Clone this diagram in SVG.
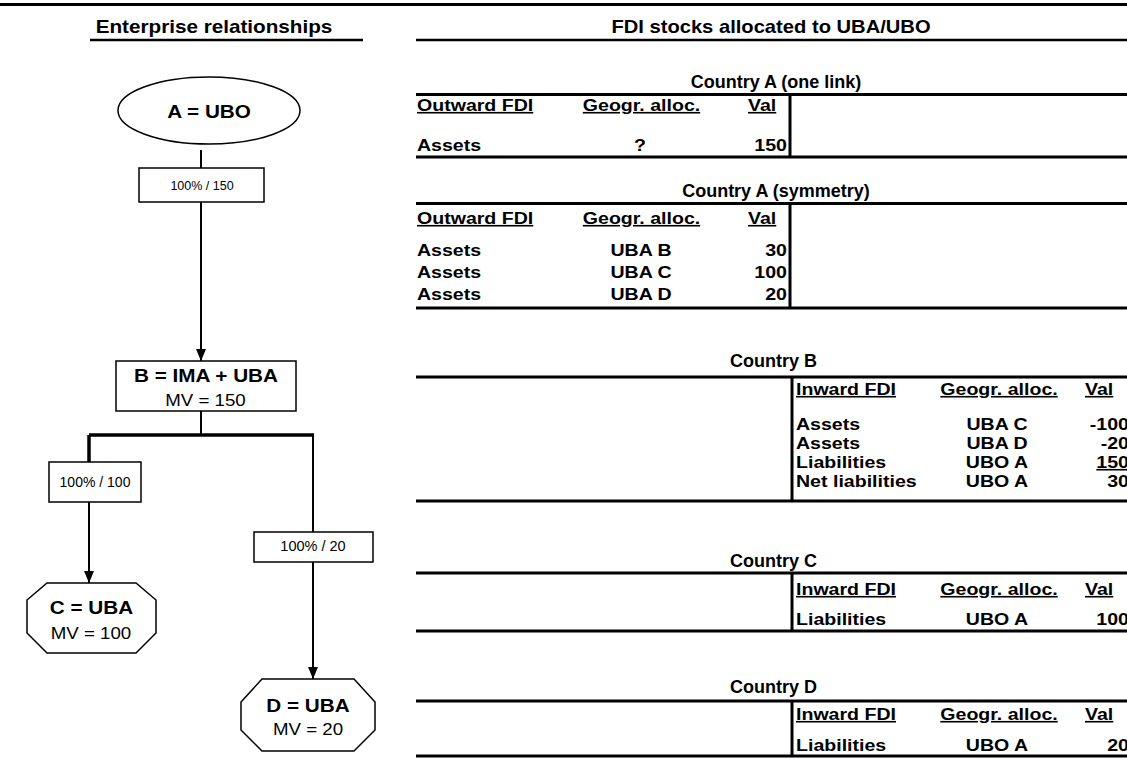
<svg xmlns="http://www.w3.org/2000/svg" width="1127" height="778" viewBox="0 0 1127 778">
<defs>
<style>
text{font-family:"Liberation Sans",Arial,sans-serif;fill:#000}
.b{font-weight:bold}
.h{font-size:18px;font-weight:bold}
.c{font-size:16.3px;font-weight:bold}
.u{text-decoration:underline}
.lbl{font-size:18px;font-weight:bold}
.mv{font-size:17px}
.pct{font-weight:normal}
.rule{stroke:#000;stroke-width:3;fill:none}
.ul{stroke:#000;stroke-width:2.5;fill:none}
.shape{fill:#fff;stroke:#000;stroke-width:1.5}
.con{stroke:#000;stroke-width:2;fill:none}
.thick{stroke:#000;stroke-width:3.5;fill:none}
</style>
<marker id="arr" viewBox="0 0 12 10" refX="12" refY="5" markerWidth="12" markerHeight="10" markerUnits="userSpaceOnUse" orient="auto">
<path d="M0,0 L12,5 L0,10 z" fill="#000"/>
</marker>
</defs>
<rect width="1127" height="778" fill="#fff"/>
<line class="rule" x1="0" y1="4.5" x2="1127" y2="4.5"/>

<g id="headers">
<text class="h" text-anchor="middle" transform="translate(214 33) scale(1.15 1)">Enterprise relationships</text>
<line class="ul" x1="90" y1="40" x2="363" y2="40"/>
<text class="h" text-anchor="middle" transform="translate(771 33) scale(1.12 1)">FDI stocks allocated to UBA/UBO</text>
<line class="ul" x1="416" y1="40" x2="1127" y2="40"/>
</g>

<g id="connectors">
<line class="con" x1="201" y1="150" x2="201" y2="168"/>
<line class="con" x1="201" y1="202" x2="201" y2="361" marker-end="url(#arr)"/>
<line class="con" x1="201" y1="411" x2="201" y2="435"/>
<line class="thick" x1="89" y1="435" x2="314" y2="435"/>
<line class="thick" x1="89" y1="435" x2="89" y2="462"/>
<line class="con" x1="89" y1="502" x2="89" y2="583" marker-end="url(#arr)"/>
<line class="con" x1="313" y1="435" x2="313" y2="532"/>
<line class="con" x1="313" y1="562" x2="313" y2="679" marker-end="url(#arr)"/>
</g>

<g id="nodeA">
<ellipse class="shape" cx="209" cy="110.5" rx="91" ry="33.5"/>
<text class="lbl" text-anchor="middle" transform="translate(209 118) scale(1.15 1)">A = UBO</text>
</g>
<g id="edgeAB">
<rect class="shape" x="139" y="168" width="125" height="34"/>
<text class="pct" font-size="12.5" text-anchor="middle" x="202" y="189.5">100% / 150</text>
</g>
<g id="nodeB">
<rect class="shape" x="116" y="361" width="180" height="50"/>
<text class="lbl" text-anchor="middle" transform="translate(206 382) scale(1.15 1)">B = IMA + UBA</text>
<text class="mv" text-anchor="middle" transform="translate(205.5 406) scale(1.1 1)">MV = 150</text>
</g>
<g id="edgeBC">
<rect class="shape" x="49" y="462" width="92" height="40"/>
<text class="pct" font-size="14" text-anchor="middle" x="95" y="486.5">100% / 100</text>
</g>
<g id="edgeBD">
<rect class="shape" x="254" y="532" width="119" height="30"/>
<text class="pct" font-size="14.5" text-anchor="middle" x="313" y="550.5">100% / 20</text>
</g>
<g id="nodeC">
<polygon class="shape" points="47,583 136,583 156,600 156,633 136,653 47,653 27,633 27,600"/>
<text class="lbl" text-anchor="middle" transform="translate(91.5 614) scale(1.15 1)">C = UBA</text>
<text class="mv" text-anchor="middle" transform="translate(91 639) scale(1.1 1)">MV = 100</text>
</g>
<g id="nodeD">
<polygon class="shape" points="262,679 354,679 375,702 375,730 354,751 262,751 241,730 241,702"/>
<text class="lbl" text-anchor="middle" transform="translate(308 712) scale(1.15 1)">D = UBA</text>
<text class="mv" text-anchor="middle" transform="translate(308 735) scale(1.1 1)">MV = 20</text>
</g>

<g id="tableA1">
<text class="h" text-anchor="middle" x="776" y="88">Country A (one link)</text>
<line class="rule" x1="416" y1="94.5" x2="1127" y2="94.5"/>
<line class="rule" x1="790" y1="94.5" x2="790" y2="157"/>
<line class="rule" x1="416" y1="157" x2="1127" y2="157"/>
<text class="c u" transform="translate(417 111) scale(1.2 1)">Outward FDI</text>
<text class="c u" text-anchor="middle" transform="translate(641.5 111) scale(1.2 1)">Geogr. alloc.</text>
<text class="c u" transform="translate(748 111) scale(1.2 1)">Val</text>
<text class="c" transform="translate(417 151) scale(1.2 1)">Assets</text>
<text class="c" text-anchor="middle" transform="translate(640 151) scale(1.2 1)">?</text>
<text class="c" text-anchor="end" transform="translate(787 151) scale(1.2 1)">150</text>
</g>

<g id="tableA2">
<text class="h" text-anchor="middle" x="776" y="197">Country A (symmetry)</text>
<line class="rule" x1="416" y1="203.5" x2="1127" y2="203.5"/>
<line class="rule" x1="790" y1="203.5" x2="790" y2="308"/>
<line class="rule" x1="416" y1="308" x2="1127" y2="308"/>
<text class="c u" transform="translate(417 224) scale(1.2 1)">Outward FDI</text>
<text class="c u" text-anchor="middle" transform="translate(641.5 224) scale(1.2 1)">Geogr. alloc.</text>
<text class="c u" transform="translate(748 224) scale(1.2 1)">Val</text>
<text class="c" transform="translate(417 256) scale(1.2 1)">Assets</text>
<text class="c" transform="translate(417 278) scale(1.2 1)">Assets</text>
<text class="c" transform="translate(417 300) scale(1.2 1)">Assets</text>
<text class="c" text-anchor="middle" transform="translate(641 256) scale(1.2 1)">UBA B</text>
<text class="c" text-anchor="middle" transform="translate(641 278) scale(1.2 1)">UBA C</text>
<text class="c" text-anchor="middle" transform="translate(641 300) scale(1.2 1)">UBA D</text>
<text class="c" text-anchor="end" transform="translate(787 256) scale(1.2 1)">30</text>
<text class="c" text-anchor="end" transform="translate(787 278) scale(1.2 1)">100</text>
<text class="c" text-anchor="end" transform="translate(787 300) scale(1.2 1)">20</text>
</g>

<g id="tableB">
<text class="h" x="730" y="367">Country B</text>
<line class="rule" x1="416" y1="377" x2="1127" y2="377"/>
<line class="rule" x1="792" y1="377" x2="792" y2="501"/>
<line class="rule" x1="416" y1="501" x2="1127" y2="501"/>
<text class="c u" transform="translate(796 395) scale(1.2 1)">Inward FDI</text>
<text class="c u" text-anchor="middle" transform="translate(999 395) scale(1.2 1)">Geogr. alloc.</text>
<text class="c u" transform="translate(1085 395) scale(1.2 1)">Val</text>
<text class="c" transform="translate(796 430) scale(1.2 1)">Assets</text>
<text class="c" transform="translate(796 449) scale(1.2 1)">Assets</text>
<text class="c" transform="translate(796 468) scale(1.2 1)">Liabilities</text>
<text class="c" transform="translate(796 487) scale(1.2 1)">Net liabilities</text>
<text class="c" text-anchor="middle" transform="translate(997 430) scale(1.2 1)">UBA C</text>
<text class="c" text-anchor="middle" transform="translate(997 449) scale(1.2 1)">UBA D</text>
<text class="c" text-anchor="middle" transform="translate(997 468) scale(1.2 1)">UBO A</text>
<text class="c" text-anchor="middle" transform="translate(997 487) scale(1.2 1)">UBO A</text>
<text class="c" text-anchor="end" transform="translate(1129 430) scale(1.2 1)">-100</text>
<text class="c" text-anchor="end" transform="translate(1129 449) scale(1.2 1)">-20</text>
<text class="c u" text-anchor="end" transform="translate(1129 468) scale(1.2 1)">150</text>
<text class="c" text-anchor="end" transform="translate(1129 487) scale(1.2 1)">30</text>
</g>

<g id="tableC">
<text class="h" x="730" y="567">Country C</text>
<line class="rule" x1="416" y1="573" x2="1127" y2="573"/>
<line class="rule" x1="792" y1="573" x2="792" y2="631"/>
<line class="rule" x1="416" y1="631" x2="1127" y2="631"/>
<text class="c u" transform="translate(796 595) scale(1.2 1)">Inward FDI</text>
<text class="c u" text-anchor="middle" transform="translate(999 595) scale(1.2 1)">Geogr. alloc.</text>
<text class="c u" transform="translate(1085 595) scale(1.2 1)">Val</text>
<text class="c" transform="translate(796 625) scale(1.2 1)">Liabilities</text>
<text class="c" text-anchor="middle" transform="translate(997 625) scale(1.2 1)">UBO A</text>
<text class="c" text-anchor="end" transform="translate(1129 625) scale(1.2 1)">100</text>
</g>

<g id="tableD">
<text class="h" x="730" y="693">Country D</text>
<line class="rule" x1="416" y1="701" x2="1127" y2="701"/>
<line class="rule" x1="792" y1="701" x2="792" y2="756"/>
<line class="rule" x1="416" y1="756" x2="1127" y2="756"/>
<text class="c u" transform="translate(796 720) scale(1.2 1)">Inward FDI</text>
<text class="c u" text-anchor="middle" transform="translate(999 720) scale(1.2 1)">Geogr. alloc.</text>
<text class="c u" transform="translate(1085 720) scale(1.2 1)">Val</text>
<text class="c" transform="translate(796 751) scale(1.2 1)">Liabilities</text>
<text class="c" text-anchor="middle" transform="translate(997 751) scale(1.2 1)">UBO A</text>
<text class="c" text-anchor="end" transform="translate(1129 751) scale(1.2 1)">20</text>
</g>
</svg>
